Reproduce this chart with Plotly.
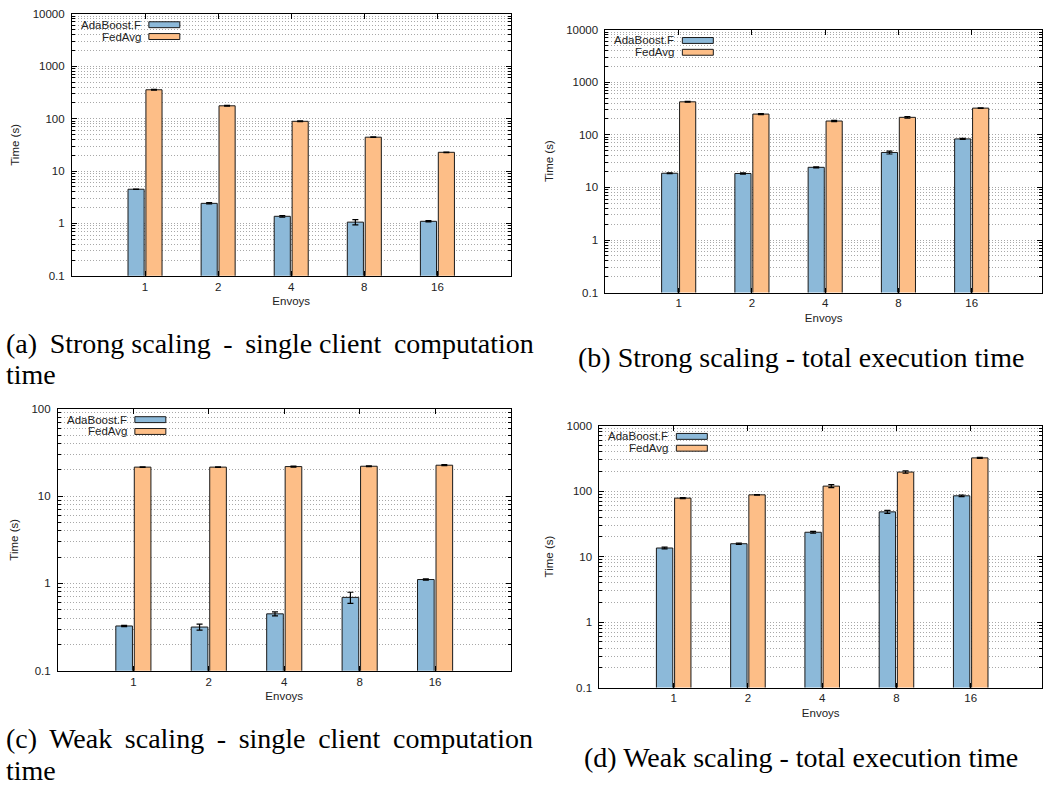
import plotly.graph_objects as go

# ---------------- data ----------------
envoys = ["1", "2", "4", "8", "16"]
series_names = ["AdaBoost.F", "FedAvg"]

# (a) Strong scaling - single client computation time
a_ada = [4.5, 2.42, 1.37, 1.06, 1.10]
a_ada_err = [0.05, 0.07, 0.05, 0.12, 0.03]
a_fed = [356, 176, 89, 44.3, 22.8]
a_fed_err = [5, 3, 1.5, 0.5, 0.3]

# (b) Strong scaling - total execution time
b_ada = [18.6, 18.4, 24.1, 46.2, 83.6]
b_ada_err = [0.3, 0.5, 0.5, 3.0, 2.0]
b_fed = [424, 248, 183, 215, 322]
b_fed_err = [8, 5, 5, 8, 5]

# (c) Weak scaling - single client computation time
c_ada = [0.326, 0.317, 0.449, 0.693, 1.11]
c_ada_err = [0.005, 0.025, 0.024, 0.10, 0.02]
c_fed = [21.5, 21.5, 21.8, 22.0, 22.6]
c_fed_err = [0.2, 0.2, 0.3, 0.2, 0.3]

# (d) Weak scaling - total execution time
d_ada = [13.5, 15.7, 23.5, 48.1, 84.6]
d_ada_err = [0.4, 0.4, 0.8, 2.5, 2.5]
d_fed = [78, 87.5, 119, 195, 321]
d_fed_err = [1.5, 1.0, 6, 8, 6]

ytick_vals = [0.1, 1, 10, 100, 1000, 10000]
ytick_text = ["0.1", "1", "10", "100", "1000", "10000"]

TS = "\u2009"  # thin space used to mimic justified caption lines
captions = [
    ["(a)" + TS + " Strong scaling" + TS + " -" + TS + " single client" + TS + " computation", "time"],
    ["(b) Strong scaling - total execution time"],
    ["(c)" + TS + " Weak" + TS + " scaling" + TS + " -" + TS + " single" + TS + " client" + TS + " computation", "time"],
    ["(d) Weak scaling - total execution time"],
]

# ---------------- layout geometry ----------------
W, H = 1043, 794
panels = [
    dict(l=72, r=511, t=8, b=274, yr=[-1, 4], xr=[-1, 5]),
    dict(l=606, r=1043, t=24, b=291, yr=[-1, 4], xr=[-1, 4.96]),
    dict(l=58, r=511, t=409, b=675, yr=[-1, 2], xr=[-1, 5]),
    dict(l=600, r=1043, t=426, b=692, yr=[-1, 3], xr=[-1, 4.96]),
]
data_sets = [
    (a_ada, a_ada_err, a_fed, a_fed_err),
    (b_ada, b_ada_err, b_fed, b_fed_err),
    (c_ada, c_ada_err, c_fed, c_fed_err),
    (d_ada, d_ada_err, d_fed, d_fed_err),
]

BLUE = "#8cb9d9"
ORANGE = "#fdbe87"
EDGE = "#1a1a1a"
GRID = "#a8a8a8"
SANS = "Liberation Sans, Arial, sans-serif"
SERIF = "Liberation Serif, Times New Roman, serif"
FS = 11.5

minor_vals = [k * 10.0 ** e for e in range(-1, 4) for k in range(2, 10)]

fig = go.Figure()
layout = dict(
    width=W, height=H,
    margin=dict(l=0, r=0, t=0, b=0),
    paper_bgcolor="white", plot_bgcolor="white",
    barmode="group", bargap=0.51, bargroupgap=0.1,
    showlegend=False,
    font=dict(family=SANS, size=FS, color="#222"),
)
shapes = []
annotations = []

for i, (p, ds) in enumerate(zip(panels, data_sets)):
    n = "" if i == 0 else str(i + 1)
    xa, ya = "x" + n, "y" + n
    ada, ada_err, fed, fed_err = ds
    for name, vals, errs, col in [(series_names[0], ada, ada_err, BLUE),
                                  (series_names[1], fed, fed_err, ORANGE)]:
        fig.add_trace(go.Bar(
            x=envoys, y=vals, name=name, xaxis=xa, yaxis=ya,
            marker=dict(color=col, line=dict(color=EDGE, width=1)),
            error_y=dict(type="data", array=errs, visible=True,
                         color="black", thickness=1.2, width=3),
            offsetgroup=name,
        ))
    dom_x = [p["l"] / W, p["r"] / W]
    dom_y = [1 - p["b"] / H, 1 - p["t"] / H]
    layout["xaxis" + n] = dict(
        domain=dom_x, anchor=ya, type="category", range=p["xr"],
        showline=True, linecolor="black", linewidth=1, mirror="ticks",
        ticks="inside", ticklen=5, tickcolor="black",
        showgrid=False, zeroline=False,
        tickfont=dict(family=SANS, size=FS, color="#222"),
        ticklabelstandoff=0,
        title=dict(text="Envoys", font=dict(family=SANS, size=FS, color="#222"),
                   standoff=5),
    )
    yts = [v for v in ytick_vals if v <= 10 ** p["yr"][1] + 1e-9]
    ytt = ytick_text[:len(yts)]
    layout["yaxis" + n] = dict(
        domain=dom_y, anchor=xa, type="log", range=p["yr"],
        showline=True, linecolor="black", linewidth=1, mirror="ticks",
        ticks="inside", ticklen=5, tickcolor="black",
        tickmode="array", tickvals=yts, ticktext=ytt,
        showgrid=True, gridcolor=GRID, griddash="1px,2px", gridwidth=1,
        minor=dict(tickmode="array",
                   tickvals=[v for v in minor_vals if v < 10 ** p["yr"][1]],
                   ticks="inside", ticklen=3, tickcolor="black",
                   showgrid=True, gridcolor=GRID, griddash="1px,2px", gridwidth=1),
        zeroline=False,
        tickfont=dict(family=SANS, size=FS, color="#222"),
        ticklabelstandoff=4,
        title=dict(text="Time (s)", font=dict(family=SANS, size=FS, color="#222"),
                   standoff=10),
    )
    # gnuplot-style key: label text then swatch
    pw = p["r"] - p["l"]
    ph = p["b"] - p["t"]
    for k, (name, col) in enumerate([(series_names[0], BLUE), (series_names[1], ORANGE)]):
        yc = 11 + 12 * k
        annotations.append(dict(
            xref=xa + " domain", yref=ya + " domain",
            x=71 / pw, y=1 - yc / ph, xanchor="right", yanchor="middle",
            text=name, showarrow=False,
            font=dict(family=SANS, size=FS, color="#222"),
        ))
        shapes.append(dict(
            type="rect", xref=xa + " domain", yref=ya + " domain",
            x0=77 / pw, x1=108 / pw, y0=1 - (yc - 3) / ph, y1=1 - (yc + 3) / ph,
            fillcolor=col, line=dict(color=EDGE, width=1),
        ))

# captions
cap_pos = [
    [(4, 343), (4, 374)],
    [(577, 357)],
    [(4, 744), (4, 776)],
    [(583, 763)],
]
for lines, poss in zip(captions, cap_pos):
    for txt, (cx, cy) in zip(lines, poss):
        annotations.append(dict(
            xref="paper", yref="paper", x=cx / W, y=1 - cy / H,
            xanchor="left", yanchor="middle", text=txt, showarrow=False,
            font=dict(family=SERIF, size=28, color="black"),
        ))

layout["shapes"] = shapes
layout["annotations"] = annotations
fig.update_layout(**layout)
fig.write_html("out.html")
